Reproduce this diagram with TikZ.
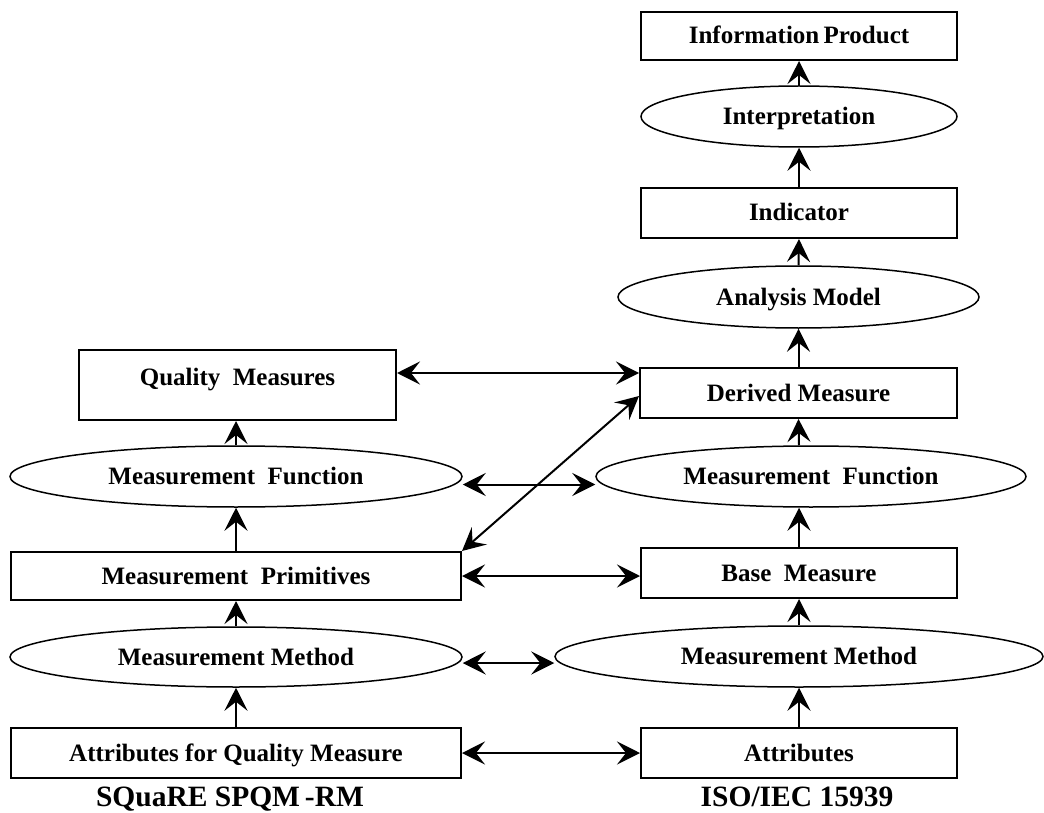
\documentclass[tikz,border=0pt]{standalone}
\usepackage{fontspec}
\setmainfont{Liberation Serif}
\usetikzlibrary{arrows.meta,shapes.geometric}

\tikzset{
  every node/.style={font=\fontsize{25}{28}\selectfont\bfseries},
  boxnode/.style={draw, line width=2pt, rectangle, inner sep=0pt,
    text height=17pt, text depth=1pt},
  ovalnode/.style={draw, line width=1.5pt, ellipse, inner sep=0pt,
    text height=17pt, text depth=1pt},
  flow/.style={line width=2pt, -{Stealth[length=23pt, width=23pt, inset=9pt]}},
  link/.style={line width=2pt, {Stealth[length=23pt, width=23pt, inset=9pt]}-{Stealth[length=23pt, width=23pt, inset=9pt]}},
  caption/.style={font=\fontsize{29.5}{33}\selectfont\bfseries, anchor=base}
}

\begin{document}
\begin{tikzpicture}[x=1pt, y=-1pt]
\useasboundingbox (0,0) rectangle (1044,813);

% ISO/IEC 15939 column
\node[boxnode, minimum width=316pt, minimum height=48pt] (ip) at (799,36) {Information\,Product};
\node[ovalnode, minimum width=316pt, minimum height=61pt] (interp) at (799,116.5) {Interpretation};
\node[boxnode, minimum width=316pt, minimum height=50pt] (ind) at (799,213) {Indicator};
\node[ovalnode, minimum width=361pt, minimum height=62pt] (am) at (798.5,297) {Analysis Model};
\node[boxnode, minimum width=317pt, minimum height=50pt] (dm) at (798.5,393) {Derived Measure};
\node[ovalnode, minimum width=430pt, minimum height=61pt] (rmf) at (811,476.5) {Measurement\ \ Function};
\node[boxnode, minimum width=316pt, minimum height=50pt] (bm) at (799,573) {Base\ \ Measure};
\node[ovalnode, minimum width=488pt, minimum height=61pt] (rmm) at (799,656.5) {Measurement Method};
\node[boxnode, minimum width=316pt, minimum height=50pt] (attr) at (799,753) {Attributes};

% SQuaRE column
\node[boxnode, minimum width=317pt, minimum height=70pt, text height=17pt, text depth=17pt] (qm) at (237.5,385) {Quality\ \ Measures};
\node[ovalnode, minimum width=452pt, minimum height=61pt] (lmf) at (236,476.5) {Measurement\ \ Function};
\node[boxnode, minimum width=450pt, minimum height=48pt] (mp) at (236,576) {Measurement\ \ Primitives};
\node[ovalnode, minimum width=452pt, minimum height=60pt] (lmm) at (236,657) {Measurement Method};
\node[boxnode, minimum width=450pt, minimum height=50pt] (aqm) at (236,753) {Attributes for Quality Measure};

% column captions
\node[caption] (capl) at (230,806) {SQuaRE SPQM\,-RM};
\node[caption] (capr) at (797,806) {ISO/IEC 15939};

% upward flow, right column
\draw[flow] (attr.north) -- (attr.north |- rmm.south);
\draw[flow] (attr.north |- rmm.north) -- (bm.south);
\draw[flow] (bm.north) -- (bm.north |- rmf.south);
\draw[flow] (bm.north |- rmf.north) -- (dm.south);
\draw[flow] (dm.north) -- (dm.north |- am.south);
\draw[flow] (dm.north |- am.north) -- (ind.south);
\draw[flow] (ind.north) -- (interp.south);
\draw[flow] (interp.north) -- (ip.south);

% upward flow, left column
\draw[flow] (aqm.north) -- (lmm.south);
\draw[flow] (lmm.north) -- (mp.south);
\draw[flow] (mp.north) -- (lmf.south);
\draw[flow] (lmf.north) -- (lmf.north |- qm.south);

% correspondences between the two models
\draw[link] ([yshift=12pt]qm.east) -- ([yshift=12pt]qm.east -| dm.west);
\draw[link] ([yshift=-8pt]lmf.east) -- ([yshift=-8pt]lmf.east -| rmf.west);
\draw[link] (mp.north east) -- ([yshift=-3pt]dm.west);
\draw[link] (mp.east) -- (mp.east -| bm.west);
\draw[link] ([yshift=-6pt]lmm.east) -- ([yshift=-6pt]lmm.east -| rmm.west);
\draw[link] (aqm.east) -- (aqm.east -| attr.west);
\end{tikzpicture}
\end{document}
